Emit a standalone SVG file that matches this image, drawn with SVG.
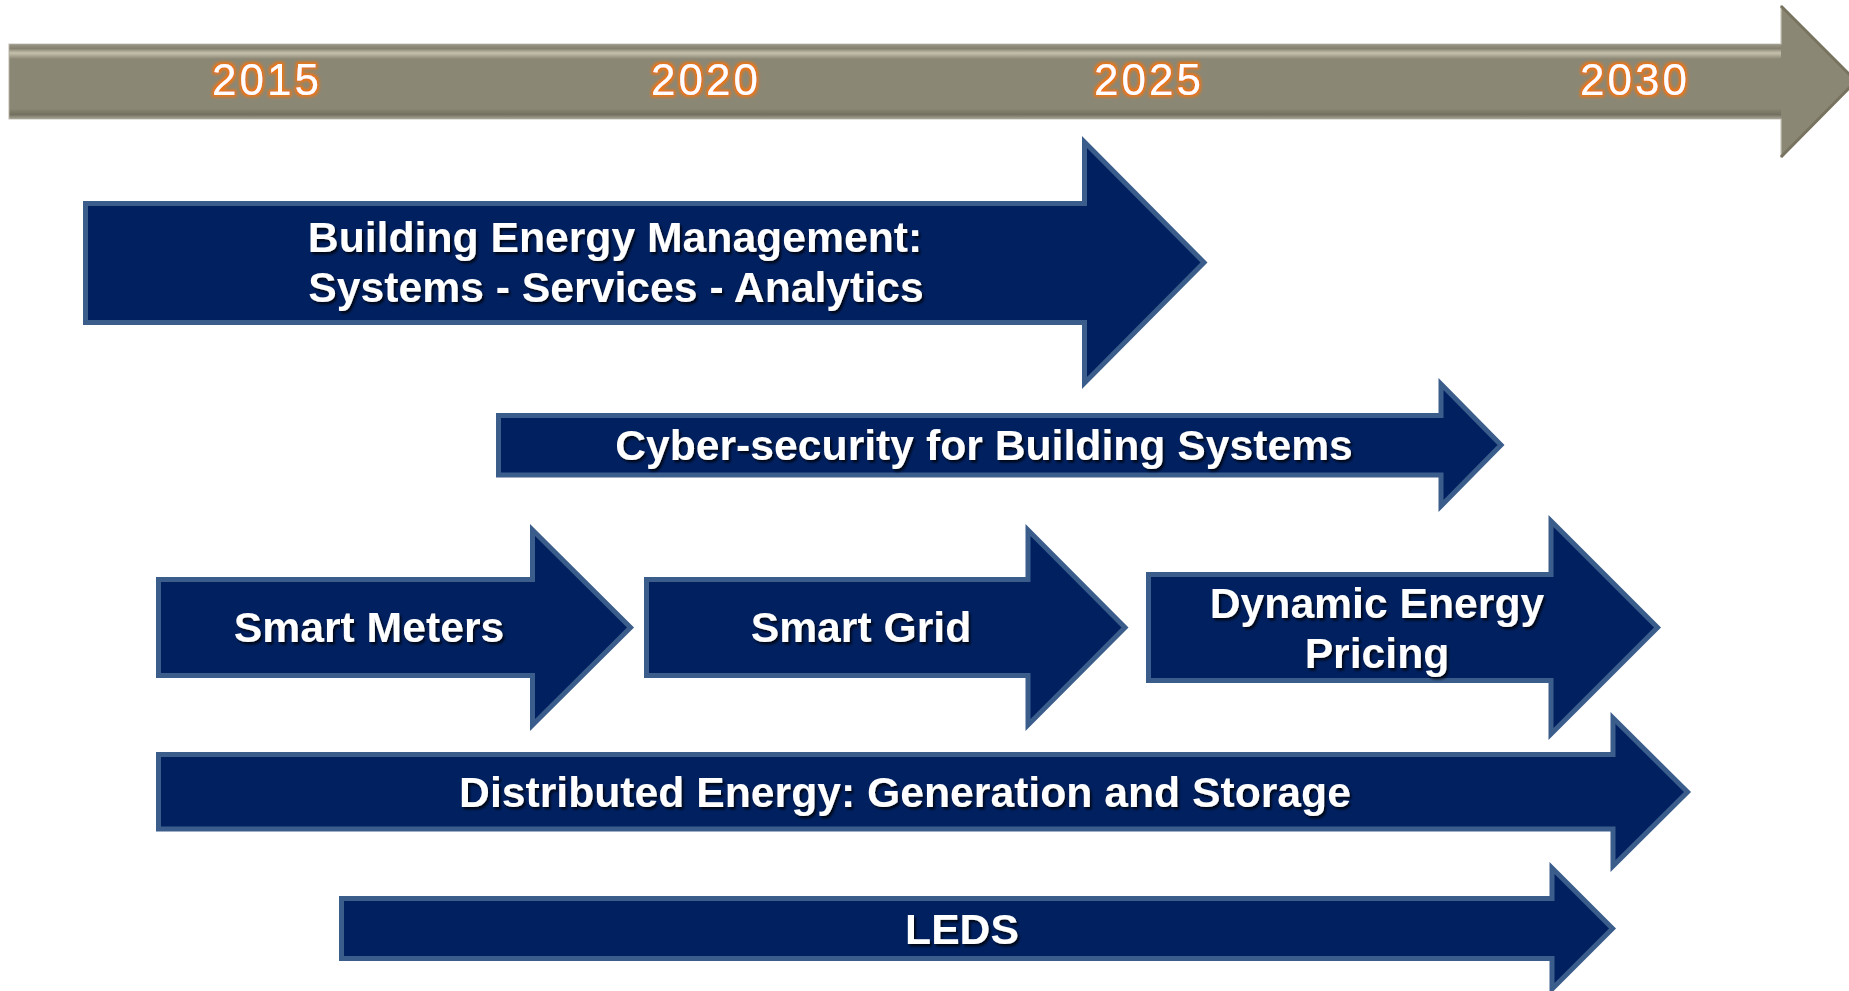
<svg xmlns="http://www.w3.org/2000/svg" width="1849" height="991" viewBox="0 0 1849 991">
  <defs>
    <style>
      .arrow { fill: #002060; stroke: #3A5D8C; stroke-width: 5; stroke-linejoin: miter; }
      .lbl { font-family: "Liberation Sans", Arial, sans-serif; font-weight: bold; font-size: 42.7px; fill: #FFFFFF; text-anchor: middle; filter: url(#shadow); }
      .year { font-family: "Liberation Sans", Arial, sans-serif; font-size: 44px; letter-spacing: 3px; fill: #FFFFFF; text-anchor: middle; filter: url(#glow); }
    </style>
    <filter id="shadow" x="-10%" y="-30%" width="120%" height="160%">
      <feDropShadow dx="2" dy="2.5" stdDeviation="1.2" flood-color="#000000" flood-opacity="0.75"/>
    </filter>
    <filter id="glow" x="-20%" y="-40%" width="140%" height="180%">
      <feMorphology in="SourceAlpha" operator="dilate" radius="2" result="d"/>
      <feGaussianBlur in="d" stdDeviation="1.8" result="b"/>
      <feFlood flood-color="#F07410"/>
      <feComposite in2="b" operator="in" result="g"/>
      <feMerge>
        <feMergeNode in="g"/>
        <feMergeNode in="SourceGraphic"/>
      </feMerge>
    </filter>
    <linearGradient id="bevel" x1="0" y1="44" x2="0" y2="119" gradientUnits="userSpaceOnUse">
      <stop offset="0" stop-color="#9C988A"/>
      <stop offset="0.06" stop-color="#858170"/>
      <stop offset="0.12" stop-color="#C6C1AC"/>
      <stop offset="0.2" stop-color="#8B8775"/>
      <stop offset="0.86" stop-color="#8B8775"/>
      <stop offset="0.94" stop-color="#74705F"/>
      <stop offset="1" stop-color="#A9A699"/>
    </linearGradient>
  </defs>

  <g id="timeline">
    <path d="M9,44 H1781 V6 L1856,81 L1781,157 V119 H9 Z" fill="#8B8775" stroke="#C9C6BA" stroke-width="1.2"/>
    <path d="M9.5,44.5 H1781 V119 H9.5 Z" fill="url(#bevel)"/>
    <path d="M1781,6 L1856,81 L1781,157" fill="none" stroke="#77735F" stroke-width="3"/>
    <text class="year" x="267" y="95">2015</text>
    <text class="year" x="706" y="95">2020</text>
    <text class="year" x="1149" y="95">2025</text>
    <text class="year" x="1635" y="95">2030</text>
  </g>

  <g id="bem">
    <path class="arrow" d="M85.5,203.5 H1084.5 V142 L1204,262.5 L1084.5,383 V322.5 H85.5 Z"/>
    <text class="lbl" x="615" y="252">Building Energy Management:</text>
    <text class="lbl" x="616" y="302">Systems - Services - Analytics</text>
  </g>

  <g id="cyber">
    <path class="arrow" d="M498.5,415.5 H1441 V384 L1501,445 L1441,506 V475 H498.5 Z"/>
    <text class="lbl" x="984" y="460">Cyber-security for Building Systems</text>
  </g>

  <g id="smart-meters">
    <path class="arrow" d="M158.5,579.5 H532.5 V530 L630.5,627.5 L532.5,725 V675.5 H158.5 Z"/>
    <text class="lbl" x="369" y="642">Smart Meters</text>
  </g>

  <g id="smart-grid">
    <path class="arrow" d="M646.5,579.5 H1028 V530 L1125,627.5 L1028,725 V675.5 H646.5 Z"/>
    <text class="lbl" x="861" y="642">Smart Grid</text>
  </g>

  <g id="dynamic-pricing">
    <path class="arrow" d="M1148.5,574.5 H1551 V521 L1657.5,627.5 L1551,734 V680.5 H1148.5 Z"/>
    <text class="lbl" x="1377" y="618">Dynamic Energy</text>
    <text class="lbl" x="1377" y="668">Pricing</text>
  </g>

  <g id="distributed-energy">
    <path class="arrow" d="M158.5,754.5 H1613 V718 L1687.5,792 L1613,866 V829 H158.5 Z"/>
    <text class="lbl" x="905" y="807">Distributed Energy: Generation and Storage</text>
  </g>

  <g id="leds">
    <path class="arrow" d="M341.5,898.5 H1552 V868 L1612.5,928.5 L1552,989 V958.5 H341.5 Z"/>
    <text class="lbl" x="962" y="944">LEDS</text>
  </g>

  <g id="connectors"/>
</svg>
